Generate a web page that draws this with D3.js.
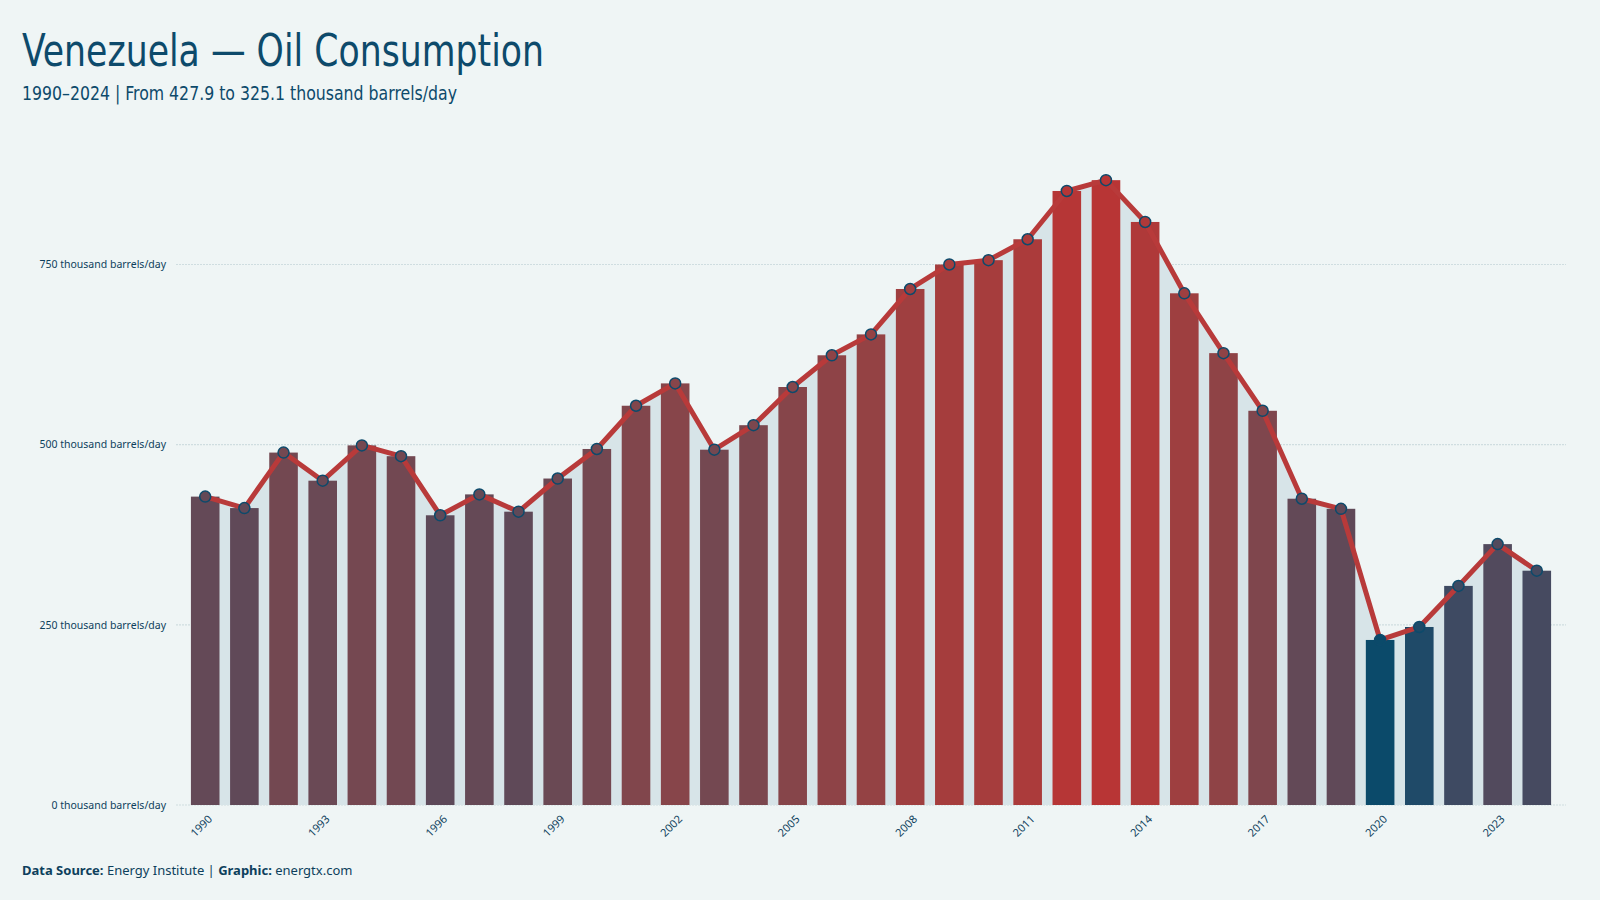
<!DOCTYPE html>
<html>
<head>
<meta charset="utf-8">
<script src="https://cdn.jsdelivr.net/npm/d3@7"></script>
<style>
  body { margin: 0; background: #eff5f5; }
  svg { display: block; }
</style>
</head>
<body>
<script>
// data
const years = d3.range(1990, 2025)
const values = [427.9, 412, 489, 450, 499, 484, 402, 431, 407, 453,
  494, 554, 585, 493, 527, 580, 624, 653, 716, 750,
  756, 785, 852, 867, 809, 710, 627, 547, 425, 411,
  229, 247, 304, 362, 325.1]
const yTicks = [0, 250, 500, 750]
const xTickYears = [1990, 1993, 1996, 1999, 2002, 2005, 2008, 2011, 2014, 2017, 2020, 2023]

const data = years.map((y, i) => ({ year: y, value: values[i] }))

let w = 1600
let h = 900
let m = { left: 190, right: 48, top: 178, bottom: 95 }

let svg = d3.select('body').append('svg').attr('width', w).attr('height', h)
svg.append('rect').attr('width', w).attr('height', h).attr('fill', '#eff5f5')

let x = d3.scaleBand().domain(years).range([m.left - 3, w - m.right + 3]).paddingInner(0.27).paddingOuter(0.1)
let y = d3.scaleLinear().domain([0, 870]).range([h - m.bottom, m.top])

// bar colour: blue (low) -> red (high)
let color = d3.scalePow().exponent(0.6)
  .domain([d3.min(values), d3.max(values)])
  .range(['#0b4a6a', '#b83535'])
  .interpolate(d3.interpolateLab)

// grid
svg.append('g').selectAll('line').data(yTicks).enter().append('line')
  .attr('x1', 176).attr('x2', 1566)
  .attr('y1', d => y(d)).attr('y2', d => y(d))
  .attr('stroke', '#cfdde0').attr('stroke-width', 1.2)
  .attr('stroke-dasharray', '2,1')

// y labels
svg.append('g').selectAll('text').data(yTicks).enter().append('text')
  .attr('x', 166).attr('y', d => y(d)).attr('dy', '0.35em')
  .attr('text-anchor', 'end')
  .attr('font-family', 'Noto Sans, sans-serif').attr('font-size', '10.5px')
  .attr('fill', '#0d3f5c')
  .text(d => d + ' thousand barrels/day')

let cx = d => x(d.year) + x.bandwidth() / 2

// area under the line
svg.append('path').datum(data)
  .attr('d', d3.area().x(cx).y0(y(0)).y1(d => y(d.value)))
  .attr('fill', '#d7e4e8')

// bars
svg.append('g').selectAll('rect').data(data).enter().append('rect')
  .attr('x', d => x(d.year)).attr('y', d => y(d.value))
  .attr('width', x.bandwidth()).attr('height', d => y(0) - y(d.value))
  .attr('fill', d => color(d.value))

// line
svg.append('path').datum(data)
  .attr('d', d3.line().x(cx).y(d => y(d.value)))
  .attr('fill', 'none').attr('stroke', '#b83a3a').attr('stroke-width', 5)
  .attr('stroke-linejoin', 'round')

svg.append('g').selectAll('circle').data(data).enter().append('circle')
  .attr('cx', cx).attr('cy', d => y(d.value)).attr('r', 5.5)
  .attr('fill', d => color(d.value))
  .attr('stroke', '#0d4a6b').attr('stroke-width', 1.5)

// x labels
svg.append('g').selectAll('text').data(data.filter(d => xTickYears.includes(d.year))).enter().append('text')
  .attr('transform', d => `translate(${cx(d) + 5},${y(0) + 12}) rotate(-45)`)
  .attr('text-anchor', 'end').attr('dy', '0.35em')
  .attr('font-family', 'Noto Sans, sans-serif').attr('font-size', '11px')
  .attr('fill', '#0d3f5c')
  .text(d => d.year)

// titles
svg.append('text').attr('x', 22).attr('y', 66)
  .attr('font-family', 'DejaVu Sans Condensed, sans-serif')
  .attr('font-size', '45px').attr('fill', '#0d4a6b')
  .attr('textLength', 522).attr('lengthAdjust', 'spacingAndGlyphs')
  .text('Venezuela — Oil Consumption')

svg.append('text').attr('x', 22).attr('y', 100)
  .attr('font-family', 'DejaVu Sans Condensed, sans-serif')
  .attr('font-size', '19px').attr('fill', '#0d4a6b')
  .attr('textLength', 435).attr('lengthAdjust', 'spacingAndGlyphs')
  .text('1990–2024 | From 427.9 to 325.1 thousand barrels/day')

let foot = svg.append('text').attr('x', 22).attr('y', 875)
  .attr('font-family', 'Noto Sans, sans-serif').attr('font-size', '13px').attr('fill', '#0d3f5c')
foot.append('tspan').attr('font-weight', 'bold').text('Data Source: ')
foot.append('tspan').text('Energy Institute | ')
foot.append('tspan').attr('font-weight', 'bold').text('Graphic: ')
foot.append('tspan').text('energtx.com')
</script>
</body>
</html>
